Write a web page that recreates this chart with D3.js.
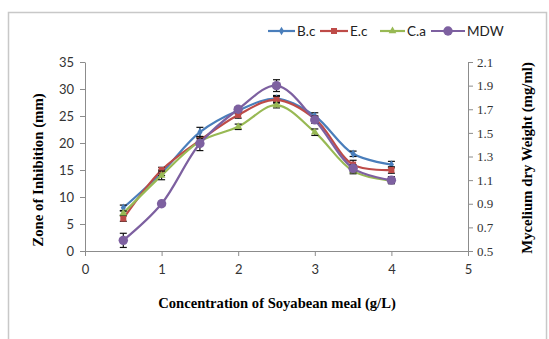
<!DOCTYPE html>
<html>
<head>
<meta charset="utf-8">
<script src="https://cdnjs.cloudflare.com/ajax/libs/d3/7.8.5/d3.min.js"></script>
<style>
  body { margin: 0; background: #fff; }
  svg { display: block; }
</style>
</head>
<body>
<div id="chart"></div>
<script>
// concentration (g/L)
var conc = [0.5, 1, 1.5, 2, 2.5, 3, 3.5, 4]

// zone of inhibition (mm), left axis
var bc = [8, 14.5, 22, 26, 28.2, 25, 18, 16]
var ec = [6, 15, 20.5, 25.2, 28, 24.5, 16, 15]
var ca = [7, 14, 20.3, 23, 27, 22, 14.8, 13]
var bcErr = [0.5, 0.5, 0.9, 0.6, 0.6, 0.6, 0.5, 0.6]
var ecErr = [0.5, 0.5, 0.6, 0.6, 0.6, 0.5, 0.8, 0.6]
var caErr = [0.4, 0.8, 0.5, 0.5, 0.5, 0.6, 0.5, 0.5]

// mycelium dry weight (mg/ml), right axis
var mdw = [0.59, 0.9, 1.41, 1.7, 1.9, 1.61, 1.2, 1.1]
var mdwErr = [0.06, 0.02, 0.06, 0.02, 0.05, 0.03, 0.03, 0.03]

var xTicks = [0, 1, 2, 3, 4, 5]
var yTicks = [0, 5, 10, 15, 20, 25, 30, 35]
var y2Ticks = [0.5, 0.7, 0.9, 1.1, 1.3, 1.5, 1.7, 1.9, 2.1]

var W = 549, H = 339
var svg = d3.select("#chart").append("svg").attr("width", W).attr("height", H)

// outer chart frame
svg.append("rect")
    .attr("x", 8.5).attr("y", 12.5)
    .attr("width", 538).attr("height", 340)
    .attr("fill", "none").attr("stroke", "#c8c8c8").attr("stroke-width", 1.5)

var x = d3.scaleLinear().domain([0, 5]).range([85, 468])
var y = d3.scaleLinear().domain([0, 35]).range([251, 62])
var y2 = d3.scaleLinear().domain([0.5, 2.1]).range([251, 62])

var axisColor = "#8c8c8c"
var sans = "Lato, 'Liberation Sans', sans-serif"
var serif = "'Liberation Serif', 'DejaVu Serif', serif"

// x axis
var gx = svg.append("g").attr("transform", "translate(0,251)")
    .call(d3.axisBottom(x).tickValues(xTicks).tickSize(5).tickSizeOuter(0).tickPadding(9).tickFormat(d3.format("d")))
gx.selectAll("text").attr("font-family", sans).attr("font-size", 13).attr("fill", "#333")

// left axis
var gy = svg.append("g").attr("transform", "translate(85,0)")
    .call(d3.axisLeft(y).tickValues(yTicks).tickSize(5).tickSizeOuter(0).tickPadding(6))
gy.selectAll("text").attr("font-family", sans).attr("font-size", 13).attr("fill", "#333")

// right axis
var gy2 = svg.append("g").attr("transform", "translate(468,0)")
    .call(d3.axisRight(y2).tickValues(y2Ticks).tickSize(5).tickSizeOuter(0).tickPadding(4).tickFormat(d3.format(".1f")))
gy2.selectAll("text").attr("font-family", serif).attr("font-size", 13).attr("fill", "#333")

svg.selectAll(".domain, .tick line").attr("stroke", axisColor)

// axis titles
svg.append("text")
    .attr("transform", "translate(43,170) rotate(-90)")
    .attr("text-anchor", "middle")
    .attr("font-family", serif).attr("font-weight", "bold").attr("font-size", 14.8)
    .text("Zone of Inhibition (mm)")

svg.append("text")
    .attr("transform", "translate(532,158) rotate(-90)")
    .attr("text-anchor", "middle")
    .attr("font-family", serif).attr("font-weight", "bold").attr("font-size", 14.8)
    .text("Mycelium dry Weight (mg/ml)")

svg.append("text")
    .attr("x", 277).attr("y", 307.5)
    .attr("text-anchor", "middle")
    .attr("font-family", serif).attr("font-weight", "bold").attr("font-size", 14.6)
    .text("Concentration of Soyabean meal (g/L)")

var series = [
    {name: "B.c", vals: bc, err: bcErr, color: "#4a7ebb", shape: d3.symbolDiamond, size: 22, scale: y},
    {name: "E.c", vals: ec, err: ecErr, color: "#be4b48", shape: d3.symbolSquare, size: 36, scale: y},
    {name: "C.a", vals: ca, err: caErr, color: "#98b954", shape: d3.symbolTriangle, size: 26, scale: y},
    {name: "MDW", vals: mdw, err: mdwErr, color: "#7d60a0", shape: d3.symbolCircle, size: 70, scale: y2}
]

series.forEach(function(s) {
    var pts = conc.map(function(c, i) { return {x: c, v: s.vals[i], e: s.err[i]} })
    var line = d3.line()
        .x(function(d) { return x(d.x) })
        .y(function(d) { return s.scale(d.v) })
        .curve(d3.curveCatmullRom.alpha(0.5))

    var g = svg.append("g")
    g.append("path").datum(pts)
        .attr("d", line)
        .attr("fill", "none").attr("stroke", s.color).attr("stroke-width", 2.2)

    // error bars
    var eb = g.selectAll(".eb").data(pts).enter().append("g")
    eb.append("line")
        .attr("x1", function(d) { return x(d.x) }).attr("x2", function(d) { return x(d.x) })
        .attr("y1", function(d) { return s.scale(d.v - d.e) }).attr("y2", function(d) { return s.scale(d.v + d.e) })
        .attr("stroke", "#111").attr("stroke-width", 1.2)
    ;[-1, 1].forEach(function(sg) {
        eb.append("line")
            .attr("x1", function(d) { return x(d.x) - 3.5 }).attr("x2", function(d) { return x(d.x) + 3.5 })
            .attr("y1", function(d) { return s.scale(d.v + sg * d.e) }).attr("y2", function(d) { return s.scale(d.v + sg * d.e) })
            .attr("stroke", "#111").attr("stroke-width", 1.2)
    })

    g.selectAll(".mk").data(pts).enter().append("path")
        .attr("transform", function(d) { return "translate(" + x(d.x) + "," + s.scale(d.v) + ")" })
        .attr("d", d3.symbol().type(s.shape).size(s.size))
        .attr("fill", s.color)
})

// legend
var legX = [268, 320, 380, 431]
var legLen = [27, 28, 25, 34]
series.forEach(function(s, i) {
    var lg = svg.append("g").attr("transform", "translate(" + legX[i] + ",31)")
    lg.append("line").attr("x1", 0).attr("x2", legLen[i])
        .attr("stroke", s.color).attr("stroke-width", 2.2)
    lg.append("path").attr("transform", "translate(" + legLen[i] / 2 + ",0)")
        .attr("d", d3.symbol().type(s.shape).size(s.size)).attr("fill", s.color)
    lg.append("text").attr("x", legLen[i] + 2).attr("y", 4.5)
        .attr("font-family", sans).attr("font-size", 13.5).attr("fill", "#222")
        .text(s.name)
})
</script>
</body>
</html>
